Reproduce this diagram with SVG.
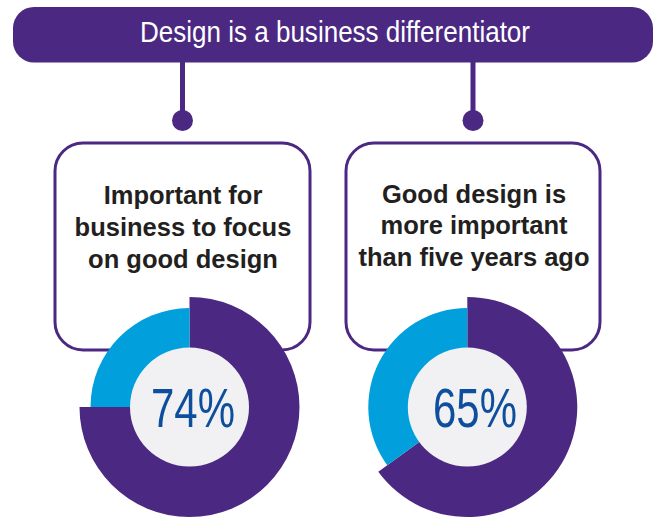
<svg xmlns="http://www.w3.org/2000/svg" width="658" height="517" viewBox="0 0 658 517">
  <style>
    .box { fill: #ffffff; stroke: #4b2982; stroke-width: 3; }
    .lbl { font-family: "Liberation Sans", Arial, sans-serif; font-weight: bold; font-size: 25.5px; fill: #231f20; text-anchor: middle; }
    .pct { font-family: "Liberation Sans", Arial, sans-serif; font-size: 56px; fill: #0d4f9c; text-anchor: middle; }
    .purple { fill: #4b2982; }
    .blue { fill: #019fdc; }
    .hole { fill: #f1f1f4; }
    .conn { stroke: #4b2982; stroke-width: 5; fill: none; }
  </style>
  <g id="header">
    <rect x="13" y="7" width="640" height="55.5" rx="21" ry="21" class="purple"/>
    <text x="335" y="42" font-family="'Liberation Sans', Arial, sans-serif" font-size="30" fill="#ffffff" text-anchor="middle" textLength="390" lengthAdjust="spacingAndGlyphs">Design is a business differentiator</text>
  </g>
  <g id="connectors">
    <line x1="182.5" y1="60" x2="182.5" y2="115" class="conn"/>
    <circle cx="182.5" cy="120.5" r="10.5" class="purple"/>
    <line x1="473" y1="60" x2="473" y2="115" class="conn"/>
    <circle cx="473" cy="120.5" r="10.5" class="purple"/>
  </g>
  <g id="box-left">
    <rect x="55" y="143" width="255" height="207" rx="28" ry="28" class="box"/>
    <text x="183" y="203.5" class="lbl">Important for</text>
    <text x="183" y="235.5" class="lbl">business to focus</text>
    <text x="183" y="267.5" class="lbl">on good design</text>
  </g>
  <g id="box-right">
    <rect x="346" y="143" width="254" height="207" rx="28" ry="28" class="box"/>
    <text x="474" y="202.5" class="lbl">Good design is</text>
    <text x="474" y="234" class="lbl">more important</text>
    <text x="474" y="266" class="lbl">than five years ago</text>
  </g>
  <g id="donut-left">
    <path d="M189.5,407 L189.5,297 A110,110 0 1 1 79.5,407 Z" class="purple"/>
    <path d="M189.5,407 L90.5,407 A99,99 0 0 1 189.5,308 Z" class="blue"/>
    <circle cx="189.5" cy="407" r="59.5" class="hole"/>
    <text x="193" y="427" class="pct" textLength="84" lengthAdjust="spacingAndGlyphs">74%</text>
  </g>
  <g id="donut-right">
    <path d="M467.3,407 L467.3,297 A110,110 0 1 1 378.3,471.7 Z" class="purple"/>
    <path d="M467.3,407 L387.2,465.2 A99,99 0 0 1 467.3,308 Z" class="blue"/>
    <circle cx="467.3" cy="407" r="59.5" class="hole"/>
    <text x="475" y="427" class="pct" textLength="84" lengthAdjust="spacingAndGlyphs">65%</text>
  </g>
</svg>
